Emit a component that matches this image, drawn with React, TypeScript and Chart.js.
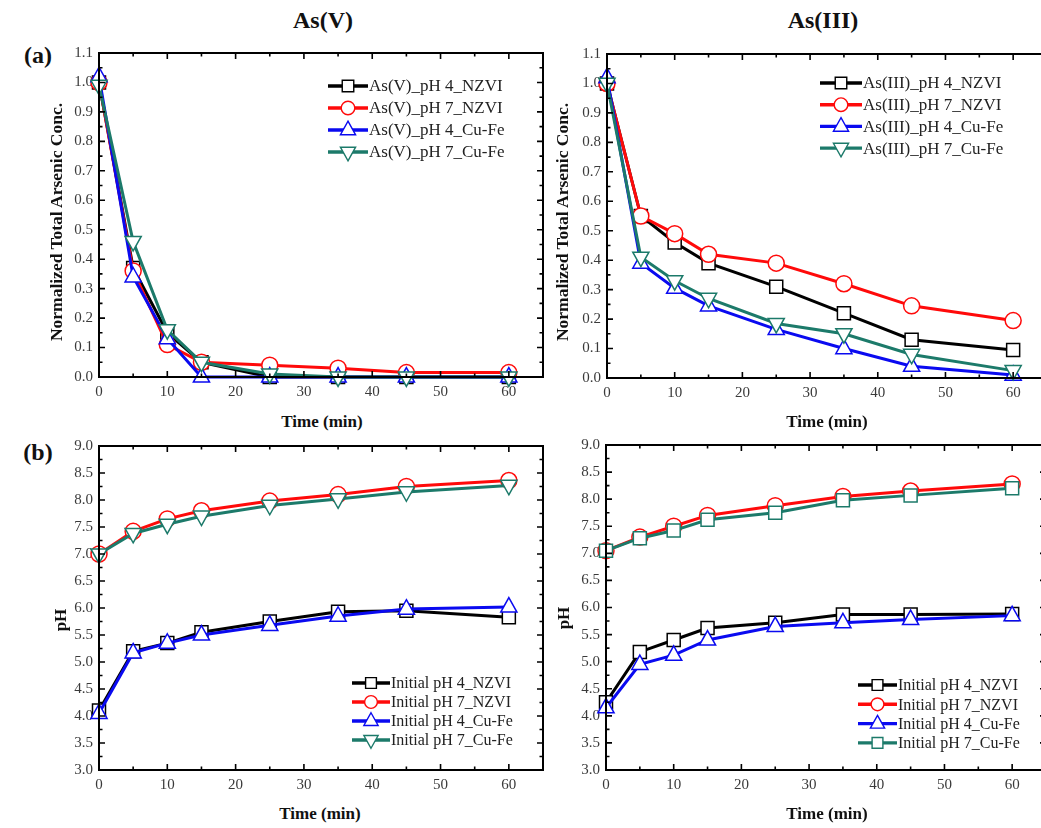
import React, { useEffect, useRef } from "react";
import { Chart, registerables } from "chart.js";
Chart.register(...registerables);

// ---------- data ----------
const timeMin = [0, 5, 10, 15, 25, 35, 45, 60];

const asV_pH4_NZVI = [1.0, 0.37, 0.15, 0.05, 0.0, 0.0, 0.0, 0.0];
const asV_pH7_NZVI = [1.0, 0.36, 0.11, 0.05, 0.04, 0.03, 0.015, 0.015];
const asV_pH4_CuFe = [1.02, 0.34, 0.13, 0.0, 0.0, 0.0, 0.0, 0.0];
const asV_pH7_CuFe = [0.99, 0.46, 0.16, 0.05, 0.01, 0.0, 0.0, 0.0];

const asIII_pH4_NZVI = [1.0, 0.55, 0.46, 0.39, 0.31, 0.22, 0.13, 0.095];
const asIII_pH7_NZVI = [1.0, 0.55, 0.49, 0.42, 0.39, 0.32, 0.245, 0.195];
const asIII_pH4_CuFe = [1.02, 0.39, 0.305, 0.245, 0.165, 0.1, 0.04, 0.01];
const asIII_pH7_CuFe = [1.0, 0.41, 0.33, 0.27, 0.185, 0.15, 0.08, 0.025];

const pHV_pH4_NZVI = [4.1, 5.2, 5.35, 5.55, 5.75, 5.93, 5.95, 5.83];
const pHV_pH7_NZVI = [7.0, 7.42, 7.65, 7.8, 7.98, 8.1, 8.25, 8.36];
const pHV_pH4_CuFe = [4.05, 5.17, 5.35, 5.5, 5.68, 5.85, 5.98, 6.02];
const pHV_pH7_CuFe = [7.0, 7.38, 7.55, 7.7, 7.9, 8.02, 8.15, 8.27];

const pHIII_pH4_NZVI = [4.25, 5.18, 5.4, 5.62, 5.72, 5.87, 5.87, 5.88];
const pHIII_pH7_NZVI = [7.05, 7.3, 7.5, 7.7, 7.88, 8.05, 8.15, 8.28];
const pHIII_pH4_CuFe = [4.15, 4.95, 5.12, 5.4, 5.65, 5.72, 5.78, 5.85];
const pHIII_pH7_CuFe = [7.05, 7.28, 7.42, 7.62, 7.75, 7.98, 8.07, 8.2];

const labelsV = ["As(V)_pH 4_NZVI", "As(V)_pH 7_NZVI", "As(V)_pH 4_Cu-Fe", "As(V)_pH 7_Cu-Fe"];
const labelsIII = ["As(III)_pH 4_NZVI", "As(III)_pH 7_NZVI", "As(III)_pH 4_Cu-Fe", "As(III)_pH 7_Cu-Fe"];
const labelsPH = ["Initial pH 4_NZVI", "Initial pH 7_NZVI", "Initial pH 4_Cu-Fe", "Initial pH 7_Cu-Fe"];

const xTickValues = [0, 10, 20, 30, 40, 50, 60];
const concTickValues = [0, 0.1, 0.2, 0.3, 0.4, 0.5, 0.6, 0.7, 0.8, 0.9, 1.0, 1.1];
const pHTickValues = [3.0, 3.5, 4.0, 4.5, 5.0, 5.5, 6.0, 6.5, 7.0, 7.5, 8.0, 8.5, 9.0];

// ---------- styles ----------
const SERIF = "'Liberation Serif', 'Times New Roman', Times, serif";
const BLACK = "#000000";
const RED = "#ff0a0a";
const BLUE = "#0a0af0";
const TEAL = "#1c7a6a";

type Marker = "rect" | "circle" | "tri" | "triDown";

function drawMarker(ctx: CanvasRenderingContext2D, m: Marker, x: number, y: number, r: number) {
  ctx.beginPath();
  if (m === "rect") {
    ctx.rect(x - r, y - r, 2 * r, 2 * r);
  } else if (m === "circle") {
    ctx.arc(x, y, r, 0, Math.PI * 2);
  } else if (m === "tri") {
    ctx.moveTo(x, y - r * 1.1);
    ctx.lineTo(x + r * 0.95, y + r * 0.6);
    ctx.lineTo(x - r * 0.95, y + r * 0.6);
    ctx.closePath();
  } else {
    ctx.moveTo(x, y + r * 1.1);
    ctx.lineTo(x + r * 0.95, y - r * 0.6);
    ctx.lineTo(x - r * 0.95, y - r * 0.6);
    ctx.closePath();
  }
  ctx.fill();
  ctx.stroke();
}

const frameTicksPlugin = {
  id: "frameTicks",
  afterDraw(chart: any) {
    const o = chart.options.plugins.frameTicks;
    const { ctx, chartArea: a } = chart;
    const xs = chart.scales.x;
    const ys = chart.scales.y;
    ctx.save();
    ctx.strokeStyle = "#000";
    ctx.lineWidth = 2;
    ctx.strokeRect(a.left, a.top, a.right - a.left, a.bottom - a.top);
    ctx.lineWidth = 1.6;
    const xMaj: number[] = o.xMajor;
    const xStep = xMaj[1] - xMaj[0];
    for (let v = xs.min; v <= xs.max + 1e-9; v += xStep / 2) {
      const px = xs.getPixelForValue(v);
      const major = xMaj.some((t) => Math.abs(t - v) < 1e-9);
      const len = major ? 6 : 3.5;
      ctx.beginPath();
      ctx.moveTo(px, a.bottom);
      ctx.lineTo(px, a.bottom - len);
      ctx.moveTo(px, a.top);
      ctx.lineTo(px, a.top + len);
      ctx.stroke();
    }
    const yMaj: number[] = o.yMajor;
    const yStep = yMaj[1] - yMaj[0];
    for (let i = 0; i <= Math.round((ys.max - ys.min) / (yStep / 2)); i++) {
      const v = ys.min + (i * yStep) / 2;
      const py = ys.getPixelForValue(v);
      const major = i % 2 === 0;
      const len = major ? 6 : 3.5;
      ctx.beginPath();
      ctx.moveTo(a.left, py);
      ctx.lineTo(a.left + len, py);
      ctx.moveTo(a.right, py);
      ctx.lineTo(a.right - len, py);
      ctx.stroke();
    }
    ctx.restore();
  },
};

const lineLegendPlugin = {
  id: "lineLegend",
  afterDraw(chart: any) {
    const o = chart.options.plugins.lineLegend;
    const { ctx, chartArea: a } = chart;
    ctx.save();
    chart.data.datasets.forEach((ds: any, i: number) => {
      const y = a.top + o.y + i * o.rowH;
      const x0 = a.left + o.x;
      ctx.strokeStyle = ds.borderColor;
      ctx.lineWidth = 3.4;
      ctx.beginPath();
      ctx.moveTo(x0, y);
      ctx.lineTo(x0 + o.len, y);
      ctx.stroke();
      ctx.fillStyle = "#fff";
      ctx.lineWidth = 1.4;
      drawMarker(ctx, ds.marker, x0 + o.len / 2, y, ds.marker === "circle" ? o.mr * 0.85 : ds.marker === "rect" ? o.mr * 0.72 : o.mr);
      ctx.fillStyle = "#222";
      ctx.font = `${o.size}px ${SERIF}`;
      ctx.textBaseline = "middle";
      ctx.textAlign = "left";
      ctx.fillText(ds.label, x0 + o.len + 1, y + 1);
    });
    ctx.restore();
  },
};

const markerDrawPlugin = {
  id: "markerDraw",
  afterDatasetDraw(chart: any, args: any) {
    const ds = chart.data.datasets[args.index];
    const meta = args.meta;
    const { ctx } = chart;
    ctx.save();
    ctx.fillStyle = "#fff";
    ctx.strokeStyle = ds.borderColor;
    ctx.lineWidth = 1.5;
    meta.data.forEach((pt: any) => {
      drawMarker(ctx, ds.marker, pt.x, pt.y, ds.mr);
    });
    ctx.restore();
  },
};

type Box = { x: number; y: number; w: number; h: number };

interface PanelProps {
  box: Box;
  series: number[][];
  labels: string[];
  markers: Marker[];
  yTicks: number[];
  xMax: number;
  legend: { x: number; y: number; rowH: number; len: number; size: number; mr: number };
}

const colors = [BLACK, RED, BLUE, TEAL];

function Panel({ box, series, labels, markers, yTicks, xMax, legend }: PanelProps) {
  const ref = useRef<HTMLCanvasElement>(null);
  const padL = 60, padT = 14, padR = 14, padB = 32;
  const cw = box.w + padL + padR;
  const ch = box.h + padT + padB;
  useEffect(() => {
    const chart = new Chart(ref.current as HTMLCanvasElement, {
      type: "line",
      data: {
        labels: timeMin,
        datasets: series.map((s, i) => ({
          label: labels[i],
          data: s.map((v, j) => ({ x: timeMin[j], y: v })),
          borderColor: colors[i],
          borderWidth: 3,
          pointRadius: 0,
          tension: 0,
          clip: false as any,
          order: 4 - i,
          marker: markers[i],
          mr: markers[i] === "circle" ? 8 : markers[i] === "rect" ? 6.5 : 8.5,
        })) as any,
      },
      options: {
        responsive: false,
        animation: false,
        layout: { padding: { left: 0, top: padT, right: padR, bottom: 0 } },
        scales: {
          x: {
            type: "linear",
            min: 0,
            max: xMax,
            grid: { display: false, drawTicks: false },
            border: { display: false },
            afterFit: (s: any) => { s.height = padB; },
            afterBuildTicks: (s: any) => { s.ticks = xTickValues.map((v) => ({ value: v })); },
            ticks: {
              padding: 6,
              color: "#3a3a3a",
              font: { family: SERIF, size: 15 },
              maxRotation: 0,
              callback: (v: any) => String(v),
            },
          },
          y: {
            type: "linear",
            min: yTicks[0],
            max: yTicks[yTicks.length - 1],
            grid: { display: false, drawTicks: false },
            border: { display: false },
            afterFit: (s: any) => { s.width = padL; },
            afterBuildTicks: (s: any) => { s.ticks = yTicks.map((v) => ({ value: v })); },
            ticks: {
              padding: 6,
              color: "#3a3a3a",
              font: { family: SERIF, size: 15 },
              callback: (v: any) => Number(v).toFixed(1),
            },
          },
        },
        plugins: {
          legend: { display: false },
          tooltip: { enabled: false },
          frameTicks: { xMajor: xTickValues, yMajor: yTicks },
          lineLegend: legend,
        } as any,
      },
      plugins: [markerDrawPlugin, frameTicksPlugin, lineLegendPlugin],
    });
    return () => chart.destroy();
  }, []);
  return (
    <canvas
      ref={ref}
      width={cw}
      height={ch}
      style={{ position: "absolute", left: box.x - padL, top: box.y - padT, width: cw, height: ch }}
    />
  );
}

function Label({ text, x, y, size, bold = true, rotate = false }: { text: string; x: number; y: number; size: number; bold?: boolean; rotate?: boolean }) {
  return (
    <div
      style={{
        position: "absolute",
        left: x,
        top: y,
        transform: `translate(-50%, -50%)${rotate ? " rotate(-90deg)" : ""}`,
        fontFamily: SERIF,
        fontWeight: bold ? "bold" : "normal",
        fontSize: size,
        whiteSpace: "nowrap",
        color: "#111",
        lineHeight: 1,
      }}
    >
      {text}
    </div>
  );
}

export default function App() {
  const mk4: Marker[] = ["rect", "circle", "tri", "triDown"];
  const mkBR: Marker[] = ["rect", "circle", "tri", "rect"];
  return (
    <div style={{ position: "fixed", left: 0, top: 0, width: 1041, height: 828, overflow: "hidden", background: "#fff" }}>
      <Label text="As(V)" x={323} y={20} size={24} />
      <Label text="As(III)" x={823} y={20} size={24} />
      <Label text="(a)" x={38} y={55} size={24} />
      <Label text="(b)" x={38} y={452} size={24} />

      <Panel
        box={{ x: 99, y: 52, w: 444, h: 325 }}
        series={[asV_pH4_NZVI, asV_pH7_NZVI, asV_pH4_CuFe, asV_pH7_CuFe]}
        labels={labelsV}
        markers={mk4}
        yTicks={concTickValues}
        xMax={65}
        legend={{ x: 229, y: 33, rowH: 22, len: 40, size: 17, mr: 8 }}
      />
      <Panel
        box={{ x: 607, y: 53, w: 440, h: 325 }}
        series={[asIII_pH4_NZVI, asIII_pH7_NZVI, asIII_pH4_CuFe, asIII_pH7_CuFe]}
        labels={labelsIII}
        markers={mk4}
        yTicks={concTickValues}
        xMax={65}
        legend={{ x: 213, y: 29, rowH: 21.7, len: 42, size: 17, mr: 8 }}
      />
      <Panel
        box={{ x: 99, y: 445, w: 444, h: 325 }}
        series={[pHV_pH4_NZVI, pHV_pH7_NZVI, pHV_pH4_CuFe, pHV_pH7_CuFe]}
        labels={labelsPH}
        markers={mk4}
        yTicks={pHTickValues}
        xMax={65}
        legend={{ x: 253, y: 237, rowH: 19, len: 38, size: 16, mr: 7.5 }}
      />
      <Panel
        box={{ x: 606, y: 444, w: 440, h: 326 }}
        series={[pHIII_pH4_NZVI, pHIII_pH7_NZVI, pHIII_pH4_CuFe, pHIII_pH7_CuFe]}
        labels={labelsPH}
        markers={mkBR}
        yTicks={pHTickValues}
        xMax={65}
        legend={{ x: 252, y: 240, rowH: 19.3, len: 39, size: 16, mr: 7.5 }}
      />

      <Label text="Normalized Total Arsenic Conc." x={57} y={222} size={17.5} rotate />
      <Label text="Normalized Total Arsenic Conc." x={563} y={222} size={17.5} rotate />
      <Label text="pH" x={60} y={620} size={17} rotate />
      <Label text="pH" x={563} y={618} size={17} rotate />
      <Label text="Time (min)" x={322} y={421} size={17} />
      <Label text="Time (min)" x={827} y={421} size={17} />
      <Label text="Time (min)" x={320} y={813} size={17} />
      <Label text="Time (min)" x={827} y={813} size={17} />
    </div>
  );
}
